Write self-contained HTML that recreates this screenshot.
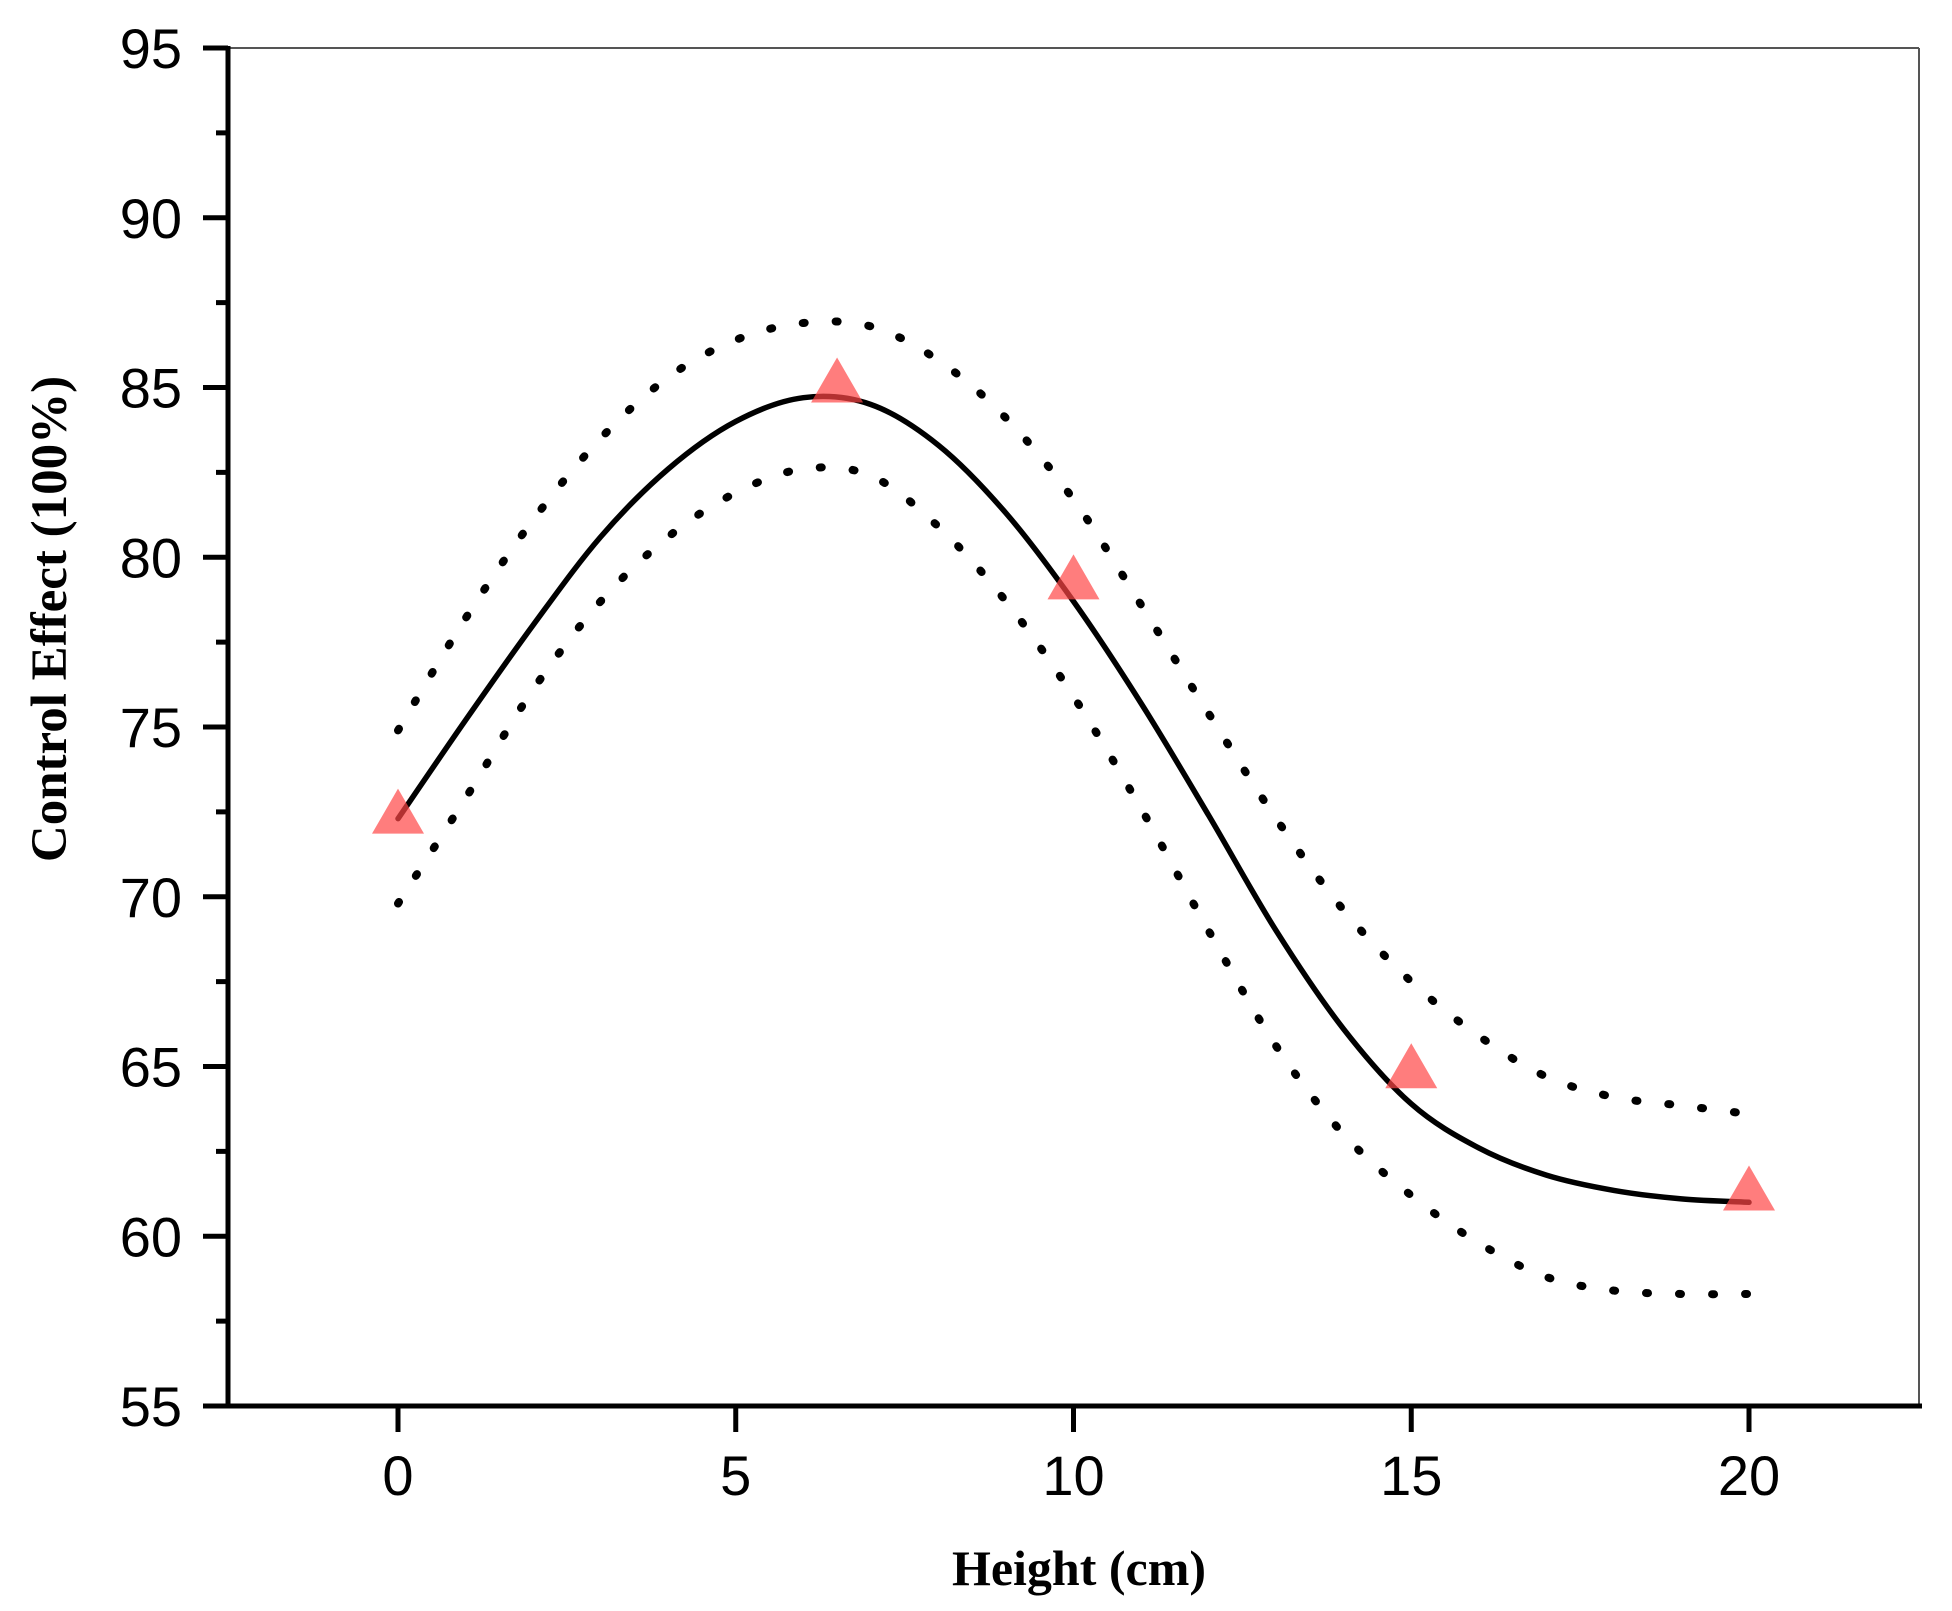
<!DOCTYPE html>
<html><head><meta charset="utf-8"><style>
body{margin:0;background:#fff}
svg{display:block}
</style></head><body>
<svg id="chart" width="1952" height="1611" viewBox="0 0 1952 1611" xmlns="http://www.w3.org/2000/svg">
<g id="plot"></g>
</svg>
<script>
const xCats = [0,1,2,3,4,5,6,7,8,9,10,11,12,13,14,15,16,17,18,19,20];
const fitVals = [72.3,75.2,78.0,80.6,82.6,84.0,84.7,84.5,83.3,81.3,78.7,75.7,72.4,69.0,66.1,63.9,62.6,61.8,61.35,61.1,61.0];
const upperVals = [74.9,78.2,81.1,83.5,85.3,86.4,86.9,86.8,85.8,84.1,81.7,78.6,75.4,72.3,69.6,67.5,65.9,64.7,64.1,63.85,63.6];
const lowerVals = [69.8,72.9,76.1,78.7,80.6,81.9,82.6,82.4,80.9,78.7,75.9,72.6,69.0,65.6,63.0,61.2,59.8,58.8,58.4,58.3,58.3];
const pointX = [0,6.5,10,15,20];
const pointY = [72.3,85.0,79.2,64.8,61.2];
const xTicks = [0,5,10,15,20];
const yTicks = [55,60,65,70,75,80,85,90,95];

const NS='http://www.w3.org/2000/svg';
const L=228,R=1919,T=48,B=1406;
const X=v=>398+(v-0)*(1749-398)/20;
const Y=v=>B-(v-55)*(B-T)/40;
const g=document.getElementById('plot');
function mk(tag,attrs,parent){const e=document.createElementNS(NS,tag);for(const k in attrs)e.setAttribute(k,attrs[k]);(parent||g).appendChild(e);return e;}

let e;
e=mk('line',{x1:L,y1:T,x2:R,y2:T,stroke:'#555','stroke-width':2});


e=mk('line',{x1:R,y1:T,x2:R,y2:B,stroke:'#555','stroke-width':2});


e=mk('line',{x1:L,y1:T-2,x2:L,y2:B+2,stroke:'#000','stroke-width':5});


e=mk('line',{x1:203,y1:B,x2:1922,y2:B,stroke:'#000','stroke-width':5});



yTicks.forEach((v,i)=>{
  const t=mk('line',{x1:203,y1:Y(v),x2:L,y2:Y(v),stroke:'#000','stroke-width':5});
  
  
  const lb=mk('text',{x:182,y:Y(v)+20,'text-anchor':'end','font-family':'Liberation Sans, sans-serif','font-size':56,fill:'#000'});
  lb.textContent=v;
  
  
  if(i<yTicks.length-1){
    const m=mk('line',{x1:216,y1:Y(v+2.5),x2:L,y2:Y(v+2.5),stroke:'#000','stroke-width':5});
    
    
  }
});
xTicks.forEach(v=>{
  const t=mk('line',{x1:X(v),y1:B,x2:X(v),y2:1432,stroke:'#000','stroke-width':5});
  
  
  const lb=mk('text',{x:X(v),y:1495,'text-anchor':'middle','font-family':'Liberation Sans, sans-serif','font-size':56,fill:'#000'});
  lb.textContent=v;
  
  
});

e=mk('text',{x:1079,y:1585,'text-anchor':'middle','font-family':'Liberation Serif, serif','font-weight':'bold','font-size':50,fill:'#000'});
e.textContent='Height (cm)';


e=mk('text',{x:0,y:0,'text-anchor':'middle','font-family':'Liberation Serif, serif','font-weight':'bold','font-size':51,fill:'#000',transform:'translate(66,619) rotate(-90)'});
e.textContent='Control Effect (100%)';



function smooth(xs,ys){
  const p=xs.map((x,i)=>[X(x),Y(ys[i])]);
  let d='M'+p[0][0]+','+p[0][1];
  for(let i=0;i<p.length-1;i++){
    const p0=p[Math.max(0,i-1)],p1=p[i],p2=p[i+1],p3=p[Math.min(p.length-1,i+2)];
    const c1=[p1[0]+(p2[0]-p0[0])/6,p1[1]+(p2[1]-p0[1])/6];
    const c2=[p2[0]-(p3[0]-p1[0])/6,p2[1]-(p3[1]-p1[1])/6];
    d+=' C'+c1+' '+c2+' '+p2;
  }
  return d;
}
e=mk('path',{d:smooth(xCats,upperVals),fill:'none',stroke:'#000','stroke-width':8,'stroke-linecap':'round','stroke-dasharray':'2 31'});


e=mk('path',{d:smooth(xCats,lowerVals),fill:'none',stroke:'#000','stroke-width':8,'stroke-linecap':'round','stroke-dasharray':'2 31'});


e=mk('path',{d:smooth(xCats,fitVals),fill:'none',stroke:'#000','stroke-width':5.5,'stroke-linecap':'round'});



pointX.forEach((x,i)=>{
  const cx=X(x),cy=Y(pointY[i]);
  const t=mk('polygon',{points:`${cx},${cy-30} ${cx-26},${cy+15} ${cx+26},${cy+15}`,fill:'rgba(255,70,70,0.7)'});
  
  
});
</script>
</body></html>
